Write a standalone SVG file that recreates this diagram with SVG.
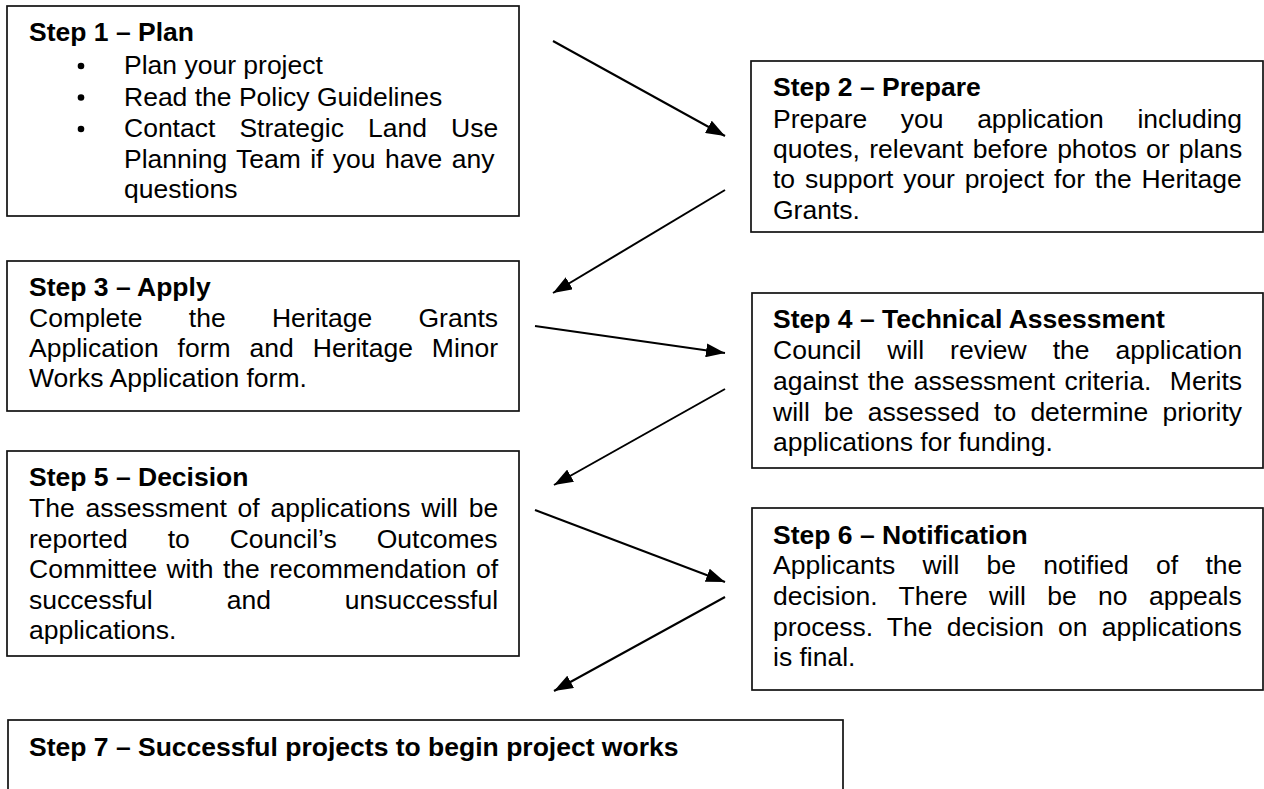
<svg xmlns="http://www.w3.org/2000/svg" width="1264" height="789" viewBox="0 0 1264 789">
<defs>
<marker id="ah" markerUnits="userSpaceOnUse" markerWidth="19" markerHeight="14" refX="19" refY="7" orient="auto"><path d="M0,0 L19,7 L0,14 z" fill="#000"/></marker>
<style>
.box{fill:#fff;stroke:#111;stroke-width:1.7}
.t{font-family:"Liberation Sans",Arial,sans-serif;font-size:26.5px;fill:#000}
.b{font-weight:bold}
.ar{stroke:#000;stroke-width:2;fill:none;marker-end:url(#ah)}
.dot{fill:#000}
</style>
</defs>
<rect width="1264" height="789" fill="#fff"/>

<g id="step1">
<rect class="box" x="7" y="6" width="512" height="210"/>
<text class="t b" x="29" y="41">Step 1 – Plan</text>
<circle class="dot" cx="81" cy="66" r="3.3"/>
<circle class="dot" cx="81" cy="97.5" r="3.3"/>
<circle class="dot" cx="81" cy="129" r="3.3"/>
<text class="t" x="124" y="74">Plan your project</text>
<text class="t" x="124" y="105.5">Read the Policy Guidelines</text>
<text class="t" x="124" y="137" style="word-spacing:16.7px">Contact Strategic Land Use</text>
<text class="t" x="124" y="167.5" style="word-spacing:2px">Planning Team if you have any</text>
<text class="t" x="124" y="198">questions</text>
</g>

<g id="step2">
<rect class="box" x="751" y="61" width="512" height="171"/>
<text class="t b" x="773" y="96">Step 2 – Prepare</text>
<text class="t" x="773" y="127.5" style="word-spacing:26.2px">Prepare you application including</text>
<text class="t" x="773" y="157.5" style="word-spacing:1.9px">quotes, relevant before photos or plans</text>
<text class="t" x="773" y="188" style="word-spacing:2.5px">to support your project for the Heritage</text>
<text class="t" x="773" y="218.5">Grants.</text>
</g>

<g id="step3">
<rect class="box" x="7" y="261" width="512" height="150"/>
<text class="t b" x="29" y="296">Step 3 – Apply</text>
<text class="t" x="29" y="327" style="word-spacing:39px">Complete the Heritage Grants</text>
<text class="t" x="29" y="357" style="word-spacing:11.6px">Application form and Heritage Minor</text>
<text class="t" x="29" y="387">Works Application form.</text>
</g>

<g id="step4">
<rect class="box" x="752" y="293" width="511" height="175"/>
<text class="t b" x="773" y="328">Step 4 – Technical Assessment</text>
<text class="t" x="773" y="359" style="word-spacing:18.6px">Council will review the application</text>
<text class="t" x="773" y="390" style="word-spacing:1.9px">against the assessment criteria.&#160; Merits</text>
<text class="t" x="773" y="420.5" style="word-spacing:6.9px">will be assessed to determine priority</text>
<text class="t" x="773" y="451">applications for funding.</text>
</g>

<g id="step5">
<rect class="box" x="7" y="451" width="512" height="205"/>
<text class="t b" x="29" y="486">Step 5 – Decision</text>
<text class="t" x="29" y="517" style="word-spacing:3.4px">The assessment of applications will be</text>
<text class="t" x="29" y="547.5" style="word-spacing:32.6px">reported to Council’s Outcomes</text>
<text class="t" x="29" y="578" style="word-spacing:2px">Committee with the recommendation of</text>
<text class="t" x="29" y="608.5" style="word-spacing:66.6px">successful and unsuccessful</text>
<text class="t" x="29" y="639">applications.</text>
</g>

<g id="step6">
<rect class="box" x="752" y="508" width="511" height="182"/>
<text class="t b" x="773" y="543.5">Step 6 – Notification</text>
<text class="t" x="773" y="574" style="word-spacing:19.9px">Applicants will be notified of the</text>
<text class="t" x="773" y="605" style="word-spacing:14px">decision. There will be no appeals</text>
<text class="t" x="773" y="635.5" style="word-spacing:6.8px">process. The decision on applications</text>
<text class="t" x="773" y="666">is final.</text>
</g>

<g id="step7">
<rect class="box" x="8" y="720" width="835" height="100"/>
<text class="t b" x="29" y="756">Step 7 – Successful projects to begin project works</text>
</g>

<g id="connectors">
<line class="ar" x1="553" y1="41" x2="725" y2="136"/>
<line class="ar" x1="725" y1="190" x2="553" y2="293"/>
<line class="ar" x1="535" y1="326" x2="725" y2="353"/>
<line class="ar" x1="725" y1="389" x2="554" y2="485"/>
<line class="ar" x1="535" y1="510" x2="725" y2="582"/>
<line class="ar" x1="725" y1="597" x2="554" y2="691"/>
</g>
</svg>
